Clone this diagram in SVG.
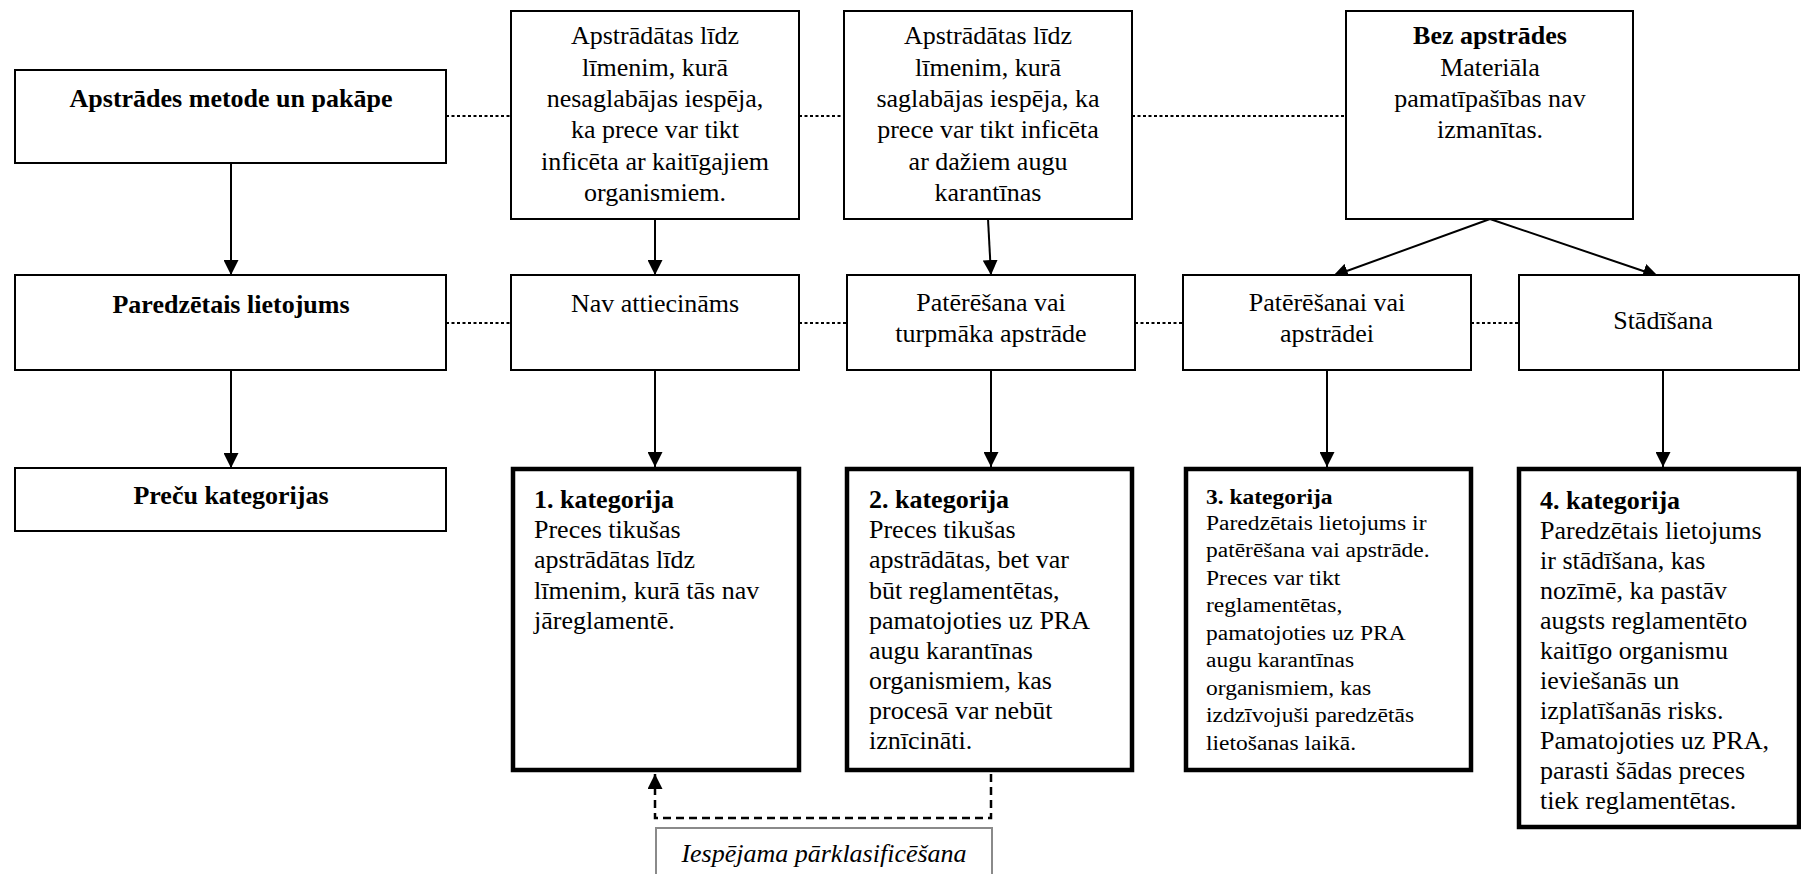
<svg xmlns="http://www.w3.org/2000/svg" width="1801" height="874" viewBox="0 0 1801 874">
<defs>
<marker id="arr" markerUnits="userSpaceOnUse" markerWidth="15" markerHeight="15" refX="15" refY="7.5" orient="auto"><path d="M0,0 L15,7.5 L0,15 z" fill="#000"/></marker>
<style>
.box{fill:#fff;stroke:#000;stroke-width:2}
.cat{fill:#fff;stroke:#000;stroke-width:4.5}
.lbl{fill:#fff;stroke:#8a8a8a;stroke-width:2}
.t{font-family:"Liberation Serif","Times New Roman",serif;font-size:26px;fill:#000}
.s{font-size:23.5px}
.b{font-weight:bold}
.i{font-style:italic}
.c{text-anchor:middle}
.dot{stroke:#000;stroke-width:2;stroke-dasharray:3 2.5;fill:none}
.con{stroke:#000;stroke-width:2;fill:none;marker-end:url(#arr)}
.dash{stroke:#000;stroke-width:2.5;stroke-dasharray:8 5;fill:none;marker-end:url(#arr)}
</style>
</defs>
<rect width="1801" height="874" fill="#fff"/>

<g id="connectors">
<line class="dot" x1="446" y1="116" x2="511" y2="116"/>
<line class="dot" x1="799" y1="116" x2="844" y2="116"/>
<line class="dot" x1="1132" y1="116" x2="1346" y2="116"/>
<line class="dot" x1="446" y1="323" x2="511" y2="323"/>
<line class="dot" x1="799" y1="323" x2="847" y2="323"/>
<line class="dot" x1="1135" y1="323" x2="1183" y2="323"/>
<line class="dot" x1="1471" y1="323" x2="1519" y2="323"/>
<line class="con" x1="231" y1="163" x2="231" y2="275"/>
<line class="con" x1="231" y1="370" x2="231" y2="468"/>
<line class="con" x1="655" y1="219" x2="655" y2="275"/>
<line class="con" x1="988" y1="219" x2="991" y2="275"/>
<line class="con" x1="1490" y1="219" x2="1333" y2="276"/>
<line class="con" x1="1490" y1="219" x2="1658" y2="276"/>
<line class="con" x1="655" y1="370" x2="655" y2="467"/>
<line class="con" x1="991" y1="370" x2="991" y2="467"/>
<line class="con" x1="1327" y1="370" x2="1327" y2="467"/>
<line class="con" x1="1663" y1="370" x2="1663" y2="467"/>
<path class="dash" d="M991,774 V818 H655 V774"/>
</g>

<g id="n-metode">
<rect class="box" x="15" y="70" width="431" height="93"/>
<text class="t b c" x="231" y="107">Apstrādes metode un pakāpe</text>
</g>
<g id="n-nesaglabajas">
<rect class="box" x="511" y="11" width="288" height="208"/>
<text class="t c" x="655"><tspan x="655" y="44">Apstrādātas līdz</tspan><tspan x="655" y="75.5">līmenim, kurā</tspan><tspan x="655" y="107">nesaglabājas iespēja,</tspan><tspan x="655" y="138">ka prece var tikt</tspan><tspan x="655" y="169.5">inficēta ar kaitīgajiem</tspan><tspan x="655" y="201">organismiem.</tspan></text>
</g>
<g id="n-saglabajas">
<rect class="box" x="844" y="11" width="288" height="208"/>
<text class="t c" x="988"><tspan x="988" y="44">Apstrādātas līdz</tspan><tspan x="988" y="75.5">līmenim, kurā</tspan><tspan x="988" y="107">saglabājas iespēja, ka</tspan><tspan x="988" y="138">prece var tikt inficēta</tspan><tspan x="988" y="169.5">ar dažiem augu</tspan><tspan x="988" y="201">karantīnas</tspan></text>
</g>
<g id="n-bez">
<rect class="box" x="1346" y="11" width="287" height="208"/>
<text class="t c" x="1490"><tspan x="1490" y="44" class="b">Bez apstrādes</tspan><tspan x="1490" y="75.5">Materiāla</tspan><tspan x="1490" y="107">pamatīpašības nav</tspan><tspan x="1490" y="138">izmanītas.</tspan></text>
</g>

<g id="n-lietojums">
<rect class="box" x="15" y="275" width="431" height="95"/>
<text class="t b c" x="231" y="313">Paredzētais lietojums</text>
</g>
<g id="n-nav">
<rect class="box" x="511" y="275" width="288" height="95"/>
<text class="t c" x="655" y="312">Nav attiecināms</text>
</g>
<g id="n-paterešana">
<rect class="box" x="847" y="275" width="288" height="95"/>
<text class="t c" x="991"><tspan x="991" y="311">Patērēšana vai</tspan><tspan x="991" y="342">turpmāka apstrāde</tspan></text>
</g>
<g id="n-paterešanai">
<rect class="box" x="1183" y="275" width="288" height="95"/>
<text class="t c" x="1327"><tspan x="1327" y="311">Patērēšanai vai</tspan><tspan x="1327" y="342">apstrādei</tspan></text>
</g>
<g id="n-stadisana">
<rect class="box" x="1519" y="275" width="280" height="95"/>
<text class="t c" x="1663" y="329">Stādīšana</text>
</g>

<g id="n-kategorijas">
<rect class="box" x="15" y="468" width="431" height="63"/>
<text class="t b c" x="231" y="504">Preču kategorijas</text>
</g>
<g id="n-cat1">
<rect class="cat" x="513" y="469" width="286" height="301"/>
<text class="t" x="534"><tspan x="534" y="508" class="b">1. kategorija</tspan><tspan x="534" y="538">Preces tikušas</tspan><tspan x="534" y="568">apstrādātas līdz</tspan><tspan x="534" y="598.5">līmenim, kurā tās nav</tspan><tspan x="534" y="628.5">jāreglamentē.</tspan></text>
</g>
<g id="n-cat2">
<rect class="cat" x="847" y="469" width="285" height="301"/>
<text class="t" x="869"><tspan x="869" y="508" class="b">2. kategorija</tspan><tspan x="869" y="538">Preces tikušas</tspan><tspan x="869" y="568">apstrādātas, bet var</tspan><tspan x="869" y="598.5">būt reglamentētas,</tspan><tspan x="869" y="628.5">pamatojoties uz PRA</tspan><tspan x="869" y="658.5">augu karantīnas</tspan><tspan x="869" y="689">organismiem, kas</tspan><tspan x="869" y="719">procesā var nebūt</tspan><tspan x="869" y="749">iznīcināti.</tspan></text>
</g>
<g id="n-cat3">
<rect class="cat" x="1186" y="469" width="285" height="301"/>
<g transform="translate(0,504) scale(1,0.85)">
<text class="t s" x="1206"><tspan x="1206" y="0" class="b">3. kategorija</tspan><tspan x="1206" y="30.6">Paredzētais lietojums ir</tspan><tspan x="1206" y="62.9">patērēšana vai apstrāde.</tspan><tspan x="1206" y="95.3">Preces var tikt</tspan><tspan x="1206" y="127.6">reglamentētas,</tspan><tspan x="1206" y="160">pamatojoties uz PRA</tspan><tspan x="1206" y="192.3">augu karantīnas</tspan><tspan x="1206" y="224.7">organismiem, kas</tspan><tspan x="1206" y="257">izdzīvojuši paredzētās</tspan><tspan x="1206" y="289.4">lietošanas laikā.</tspan></text>
</g>
</g>
<g id="n-cat4">
<rect class="cat" x="1519" y="469" width="280" height="358"/>
<text class="t" x="1540"><tspan x="1540" y="509" class="b">4. kategorija</tspan><tspan x="1540" y="539">Paredzētais lietojums</tspan><tspan x="1540" y="569">ir stādīšana, kas</tspan><tspan x="1540" y="599">nozīmē, ka pastāv</tspan><tspan x="1540" y="629">augsts reglamentēto</tspan><tspan x="1540" y="659">kaitīgo organismu</tspan><tspan x="1540" y="689">ieviešanās un</tspan><tspan x="1540" y="719">izplatīšanās risks.</tspan><tspan x="1540" y="749">Pamatojoties uz PRA,</tspan><tspan x="1540" y="779">parasti šādas preces</tspan><tspan x="1540" y="809">tiek reglamentētas.</tspan></text>
</g>

<g id="n-parklasificesana">
<rect class="lbl" x="656" y="828" width="336" height="70"/>
<text class="t i c" x="824" y="862">Iespējama pārklasificēšana</text>
</g>
</svg>
